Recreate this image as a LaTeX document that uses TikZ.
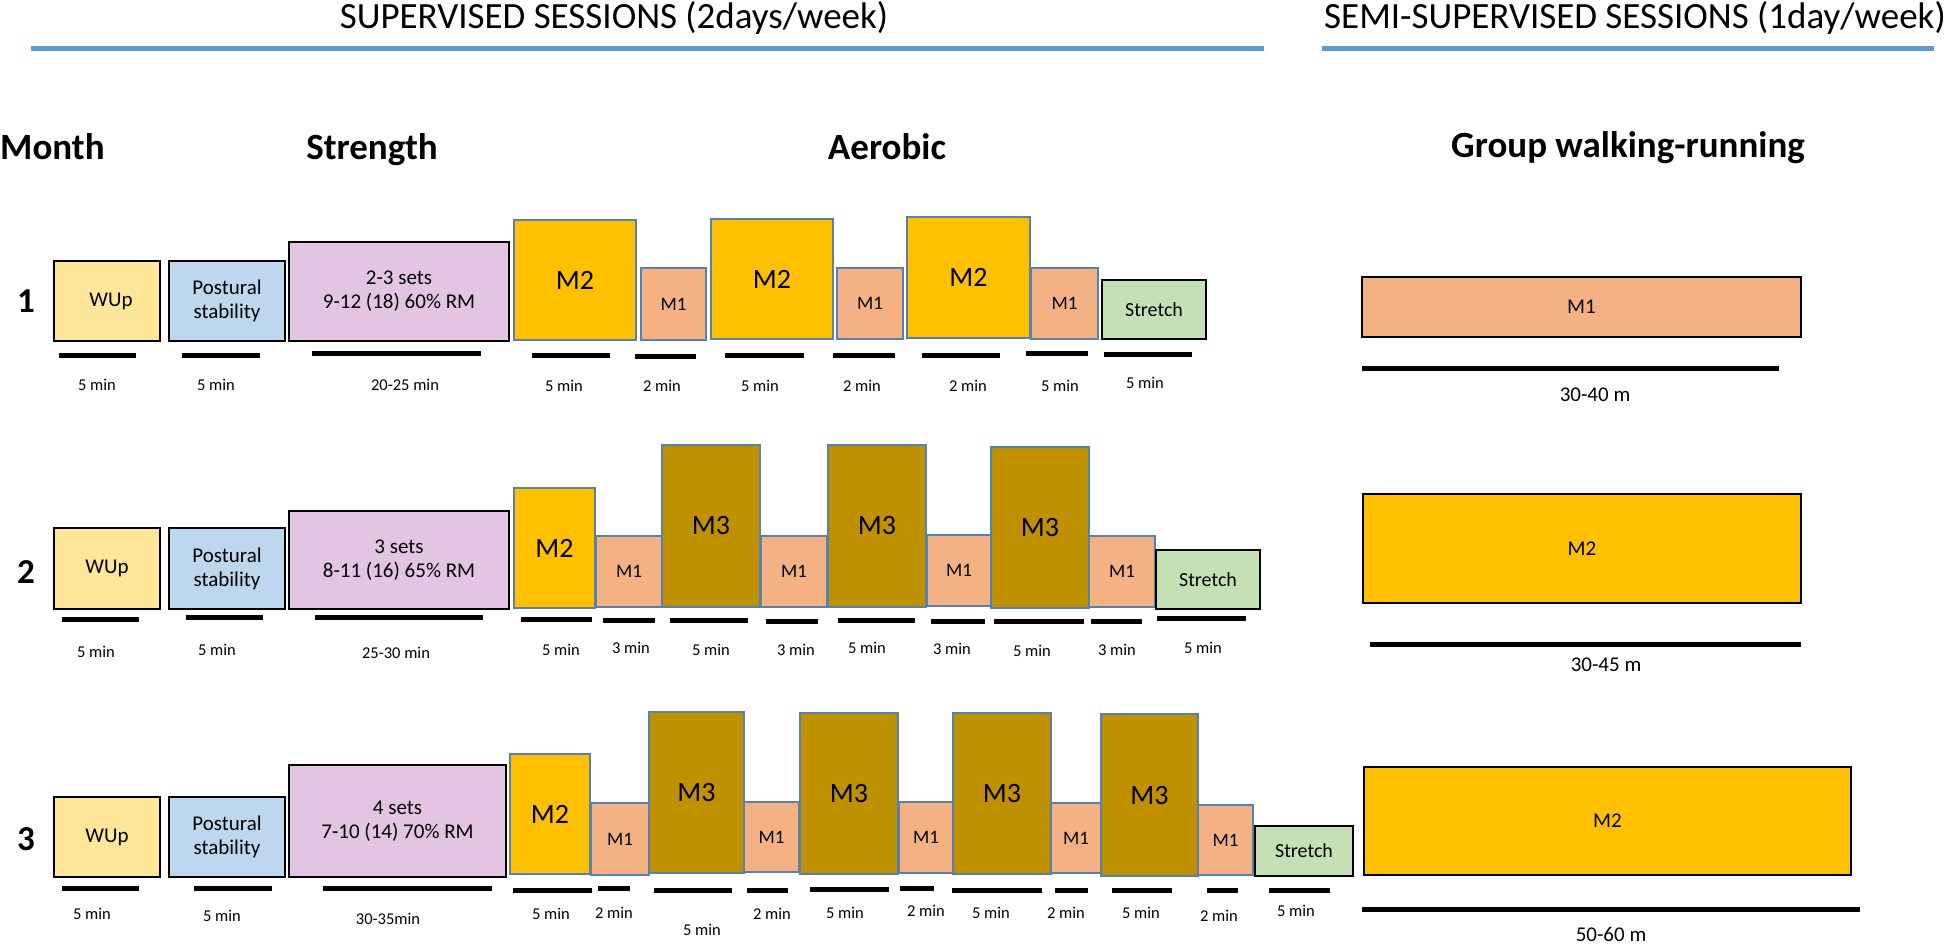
\documentclass[tikz,border=0pt]{standalone}
\usepackage{fontspec}
\setmainfont{Carlito}
\definecolor{cwup}{HTML}{FFE699}
\definecolor{cpost}{HTML}{BDD7EE}
\definecolor{cstr}{HTML}{E3C5E3}
\definecolor{cmtwo}{HTML}{FFC000}
\definecolor{cmone}{HTML}{F4B183}
\definecolor{cmthree}{HTML}{BF9000}
\definecolor{cstretch}{HTML}{C5E0B4}
\definecolor{cline}{HTML}{5B9BD5}
\definecolor{mborder}{HTML}{5682AE}
\newcommand\mkbox[7]{\node[#2,minimum width={(#5-#3)*1pt},minimum height={(#6-#4)*1pt}] (#1) at ({(#3+#5)/2},{(#4+#6)/2}) {#7};}
\newcommand\mkbar[3]{\draw[barline] (#1,#3) -- (#2,#3);}
\tikzset{
  bxbase/.style={draw, line width=2.6pt, inner sep=0pt, outer sep=0pt, align=center},
  kbox/.style={bxbase, draw=black},
  mbx/.style={bxbase, draw=mborder},
  bwup/.style={kbox, fill=cwup, font=\fontsize{21}{24}\selectfont},
  bpost/.style={kbox, fill=cpost, font=\fontsize{21}{24}\selectfont},
  bstr/.style={kbox, fill=cstr, font=\fontsize{21}{24}\selectfont},
  bmtwo/.style={mbx, fill=cmtwo, font=\fontsize{28}{34}\selectfont},
  bmthree/.style={mbx, fill=cmthree, font=\fontsize{28}{34}\selectfont},
  bmone/.style={mbx, fill=cmone, font=\fontsize{19}{23}\selectfont},
  bstretch/.style={kbox, fill=cstretch, font=\fontsize{20}{24}\selectfont},
  bwide/.style={kbox, font=\fontsize{21}{25}\selectfont},
  barline/.style={line width=5pt, black},
  lbl/.style={font=\fontsize{16.5}{19}\selectfont, inner sep=0pt},
  dist/.style={font=\fontsize{21}{25}\selectfont, inner sep=0pt},
  hdr/.style={font=\fontsize{37}{44}\selectfont, inner sep=0pt},
  colhdr/.style={font=\bfseries\fontsize{37}{44}\selectfont, inner sep=0pt},
  num/.style={font=\bfseries\fontsize{35}{42}\selectfont, inner sep=0pt},
  hline/.style={line width=5pt, cline},
}
\begin{document}
\begin{tikzpicture}[x=1pt,y=-1pt]
\useasboundingbox[fill=white] (0,0) rectangle (1946,945);
% headers
\node[hdr, anchor=base] (hsup) at (614,28) {SUPERVISED SESSIONS (2days/week)};
\node[hdr, anchor=base west] (hsemi) at (1324,28) {SEMI-SUPERVISED SESSIONS (1day/week)};
\coordinate (la) at (31,48.5); \coordinate (lb) at (1264,48.5);
\coordinate (lc) at (1322,48.5); \coordinate (ld) at (1934,48.5);
\draw[hline] (la) -- (lb);
\draw[hline] (lc) -- (ld);
\node[colhdr, anchor=base west] (hmonth) at (0,159) {Month};
\node[colhdr, anchor=base] (hstrength) at (372,159) {Strength};
\node[colhdr, anchor=base] (haerobic) at (887,159) {Aerobic};
\node[colhdr, anchor=base] (hgroup) at (1628,157) {Group walking-running};
% month numbers
\node[num, anchor=base] (n1) at (26,312) {1};
\node[num, anchor=base] (n2) at (26,583) {2};
\node[num, anchor=base] (n3) at (26,850) {3};
% ---------- Row 1 ----------
\mkbox{wupA}{bwup}{54}{261}{160}{341}{\hspace*{8pt}WUp}
\mkbox{postA}{bpost}{169}{261}{285}{341}{Postural\\stability}
\mkbox{strA}{bstr}{289}{242}{509}{341}{2-3 sets\\9-12 (18) 60\% RM}
\mkbox{aA1}{bmtwo}{514}{220}{636}{340}{M2}
\mkbox{aA2}{bmone}{641}{268}{706}{340}{M1}
\mkbox{aA3}{bmtwo}{711}{219}{833}{339}{M2}
\mkbox{aA4}{bmone}{837}{268}{903}{339}{M1}
\mkbox{aA5}{bmtwo}{907}{217}{1030}{338}{M2}
\mkbox{aA6}{bmone}{1031}{268}{1098}{339}{M1}
\mkbox{stA}{bstretch}{1102}{280}{1206}{339}{Stretch}
\mkbox{gA}{bwide,fill=cmone}{1362}{277}{1801}{337}{M1}
\mkbar{59}{136}{355}
\mkbar{182}{260}{355}
\mkbar{312}{481}{353.5}
\mkbar{532}{610}{355.5}
\mkbar{635}{696}{356.5}
\mkbar{725}{804}{355.5}
\mkbar{833}{895}{355.5}
\mkbar{922}{1000}{355.5}
\mkbar{1026}{1088}{353.5}
\mkbar{1104}{1192}{354.5}
\mkbar{1362}{1779}{368}
\node[lbl] (tA1) at (97,385) {5 min};
\node[lbl] (tA2) at (216,385) {5 min};
\node[lbl] (tA3) at (405,385) {20-25 min};
\node[lbl] (tA4) at (564,386) {5 min};
\node[lbl] (tA5) at (662,386) {2 min};
\node[lbl] (tA6) at (760,386) {5 min};
\node[lbl] (tA7) at (862,386) {2 min};
\node[lbl] (tA8) at (968,386) {2 min};
\node[lbl] (tA9) at (1060,386) {5 min};
\node[lbl] (tA10) at (1145,383) {5 min};
\node[dist] (dA) at (1595,395) {30-40 m};
% ---------- Row 2 ----------
\mkbox{wupB}{bwup}{54}{528}{160}{609}{WUp}
\mkbox{postB}{bpost}{169}{528}{285}{609}{Postural\\stability}
\mkbox{strB}{bstr}{289}{511}{509}{609}{3 sets\\8-11 (16) 65\% RM}
\mkbox{aB1}{bmtwo}{514}{488}{595}{608}{M2}
\mkbox{aB2}{bmone}{596}{536}{662}{607}{M1}
\mkbox{aB3}{bmthree}{662}{445}{760}{607}{M3}
\mkbox{aB4}{bmone}{761}{536}{827}{607}{M1}
\mkbox{aB5}{bmthree}{828}{445}{926}{607}{M3}
\mkbox{aB6}{bmone}{927}{535}{991}{606}{M1}
\mkbox{aB7}{bmthree}{991}{447}{1089}{608}{M3}
\mkbox{aB8}{bmone}{1089}{536}{1155}{607}{M1}
\mkbox{stB}{bstretch}{1156}{550}{1260}{609}{Stretch}
\mkbox{gB}{bwide,fill=cmtwo}{1363}{494}{1801}{603}{M2}
\mkbar{62}{139}{619}
\mkbar{186}{263}{617.5}
\mkbar{315}{483}{617}
\mkbar{521}{592}{619.5}
\mkbar{603}{655}{620}
\mkbar{670}{748}{620}
\mkbar{766}{818}{621}
\mkbar{838}{915}{620}
\mkbar{931}{985}{621}
\mkbar{994}{1084}{621}
\mkbar{1091}{1142}{621.5}
\mkbar{1157}{1246}{618.5}
\mkbar{1370}{1801}{644.5}
\node[lbl] (tB1) at (96,652) {5 min};
\node[lbl] (tB2) at (217,650) {5 min};
\node[lbl] (tB3) at (396,653) {25-30 min};
\node[lbl] (tB4) at (561,650) {5 min};
\node[lbl] (tB5) at (631,648) {3 min};
\node[lbl] (tB6) at (711,650) {5 min};
\node[lbl] (tB7) at (796,650) {3 min};
\node[lbl] (tB8) at (867,648) {5 min};
\node[lbl] (tB9) at (952,649) {3 min};
\node[lbl] (tB10) at (1032,651) {5 min};
\node[lbl] (tB11) at (1117,650) {3 min};
\node[lbl] (tB12) at (1203,648) {5 min};
\node[dist] (dB) at (1606,665) {30-45 m};
% ---------- Row 3 ----------
\mkbox{wupC}{bwup}{54}{797}{160}{877}{WUp}
\mkbox{postC}{bpost}{169}{797}{285}{877}{Postural\\stability}
\mkbox{strC}{bstr}{289}{765}{506}{877}{4 sets\\7-10 (14) 70\% RM}
\mkbox{aC1}{bmtwo}{510}{754}{590}{874}{M2}
\mkbox{aC2}{bmone}{591}{803}{649}{875}{M1}
\mkbox{aC3}{bmthree}{649}{712}{744}{873}{M3}
\mkbox{aC4}{bmone}{744}{802}{799}{872}{M1}
\mkbox{aC5}{bmthree}{800}{713}{898}{874}{M3}
\mkbox{aC6}{bmone}{899}{802}{953}{873}{M1}
\mkbox{aC7}{bmthree}{953}{713}{1051}{874}{M3}
\mkbox{aC8}{bmone}{1051}{803}{1101}{873}{M1}
\mkbox{aC9}{bmthree}{1101}{714}{1198}{876}{M3}
\mkbox{aC10}{bmone}{1198}{805}{1253}{875}{M1}
\mkbox{stC}{bstretch}{1255}{826}{1353}{876}{Stretch}
\mkbox{gC}{bwide,fill=cmtwo}{1364}{767}{1851}{875}{M2}
\mkbar{62}{139}{888}
\mkbar{194}{272}{888}
\mkbar{323}{492}{888}
\mkbar{513}{592}{890}
\mkbar{598}{630}{888.5}
\mkbar{654}{732}{890}
\mkbar{747}{788}{890.5}
\mkbar{810}{889}{889.5}
\mkbar{900}{934}{888}
\mkbar{952}{1042}{890}
\mkbar{1055}{1088}{890.5}
\mkbar{1112}{1172}{890}
\mkbar{1207}{1238}{890.5}
\mkbar{1269}{1330}{890}
\mkbar{1362}{1860}{909.5}
\node[lbl] (tC1) at (92,914) {5 min};
\node[lbl] (tC2) at (222,916) {5 min};
\node[lbl] (tC3) at (388,919) {30-35min};
\node[lbl] (tC4) at (551,914) {5 min};
\node[lbl] (tC5) at (614,913) {2 min};
\node[lbl] (tC6) at (702,930) {5 min};
\node[lbl] (tC7) at (772,914) {2 min};
\node[lbl] (tC8) at (845,913) {5 min};
\node[lbl] (tC9) at (926,911) {2 min};
\node[lbl] (tC10) at (991,913) {5 min};
\node[lbl] (tC11) at (1066,913) {2 min};
\node[lbl] (tC12) at (1141,913) {5 min};
\node[lbl] (tC13) at (1219,916) {2 min};
\node[lbl] (tC14) at (1296,911) {5 min};
\node[dist] (dC) at (1611,934) {50-60 m};
\end{tikzpicture}
\end{document}
